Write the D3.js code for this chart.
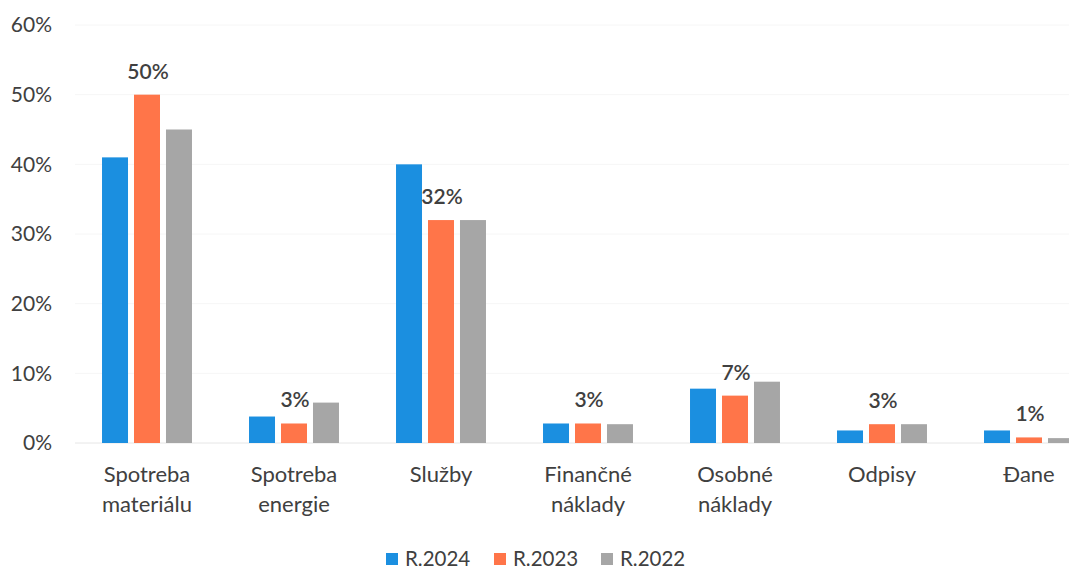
<!DOCTYPE html>
<html>
<head>
<meta charset="utf-8">
<script src="https://cdn.jsdelivr.net/npm/d3@7"></script>
<style>
  body { margin: 0; background: #fff; }
  text { font-family: Lato, "Open Sans", sans-serif; fill: #404040; }
</style>
</head>
<body>
<div id="chart"></div>
<script>
// data
var categories = [["Spotreba", "materiálu"], ["Spotreba", "energie"], ["Služby"], ["Finančné", "náklady"], ["Osobné", "náklady"], ["Odpisy"], ["Đane"]];
var seriesNames = ["R.2024", "R.2023", "R.2022"];
var r2024 = [0.41, 0.038, 0.40, 0.028, 0.078, 0.018, 0.018];
var r2023 = [0.50, 0.028, 0.32, 0.028, 0.068, 0.027, 0.008];
var r2022 = [0.45, 0.058, 0.32, 0.027, 0.088, 0.027, 0.007];
var yTicks = [0, 0.1, 0.2, 0.3, 0.4, 0.5, 0.6];
var colors = ["#1b8fe0", "#ff7549", "#a6a6a6"];

var svgWidth = 1069;
var svgHeight = 571;

var svg = d3.select("#chart")
  .append("svg")
  .attr("width", svgWidth)
  .attr("height", svgHeight);

var catKeys = categories.map(c => c.join(" "));
var values = [r2024, r2023, r2022];

var x0 = d3.scaleBand()
  .domain(catKeys)
  .range([73.5, 73.5 + 7 * 147])
  .paddingInner(0.388)
  .paddingOuter(0.194);

var x1 = d3.scaleBand()
  .domain(seriesNames)
  .range([0, x0.bandwidth()])
  .paddingInner(0.1875);

var y = d3.scaleLinear()
  .domain([0, 0.6])
  .range([443, 25]);

// faint gridlines
svg.append("g")
  .selectAll("line")
  .data(yTicks)
  .enter()
  .append("line")
  .attr("x1", 75)
  .attr("x2", svgWidth)
  .attr("y1", d => y(d))
  .attr("y2", d => y(d))
  .attr("stroke", d => d === 0 ? "#e6e6e6" : "#f6f6f6")
  .attr("stroke-width", 1);

// y axis labels
var leftAxis = d3.axisLeft(y).tickValues(yTicks).tickFormat(d3.format(".0%")).tickSize(0).tickPadding(0);
var yAxis = svg.append("g")
  .attr("transform", "translate(52,0)")
  .call(leftAxis);
yAxis.select(".domain").remove();
yAxis.selectAll("text")
  .attr("font-size", 21)
  .style("font-family", "Lato, 'Open Sans', sans-serif")
  .attr("fill", "#404040");

// bars
var groups = svg.append("g")
  .selectAll("g")
  .data(catKeys)
  .enter()
  .append("g")
  .attr("transform", d => `translate(${x0(d)},0)`);

groups.selectAll("rect")
  .data((d, i) => seriesNames.map((s, j) => ({ s: s, v: values[j][i], j: j })))
  .enter()
  .append("rect")
  .attr("x", d => x1(d.s))
  .attr("y", d => y(d.v))
  .attr("width", x1.bandwidth())
  .attr("height", d => y(0) - y(d.v))
  .attr("fill", d => colors[d.j]);

// data labels on R.2023
svg.append("g")
  .selectAll("text")
  .data(r2023)
  .enter()
  .append("text")
  .attr("x", (d, i) => x0(catKeys[i]) + x1("R.2023") + x1.bandwidth() / 2 + 1)
  .attr("y", d => y(d) - 16)
  .attr("text-anchor", "middle")
  .attr("font-size", 21)
  .attr("font-weight", 600)
  .text(d => d3.format(".0%")(d));

// category labels
var catLabels = svg.append("g")
  .selectAll("text")
  .data(categories)
  .enter()
  .append("text")
  .attr("x", (d, i) => x0(catKeys[i]) + x0.bandwidth() / 2)
  .attr("y", 482)
  .attr("text-anchor", "middle")
  .attr("font-size", 22);
catLabels.selectAll("tspan")
  .data(d => d)
  .enter()
  .append("tspan")
  .attr("x", function() { return d3.select(this.parentNode).attr("x"); })
  .attr("dy", (d, i) => i === 0 ? 0 : 30)
  .text(d => d);

// legend
var legendX = [386, 494, 601];
var legend = svg.append("g")
  .selectAll("g")
  .data(seriesNames)
  .enter()
  .append("g")
  .attr("transform", (d, i) => `translate(${legendX[i]},553)`);
legend.append("rect")
  .attr("width", 12)
  .attr("height", 12)
  .attr("fill", (d, i) => colors[i]);
legend.append("text")
  .attr("x", 19)
  .attr("y", 13)
  .attr("font-size", 20.5)
  .text(d => d);
</script>
</body>
</html>
